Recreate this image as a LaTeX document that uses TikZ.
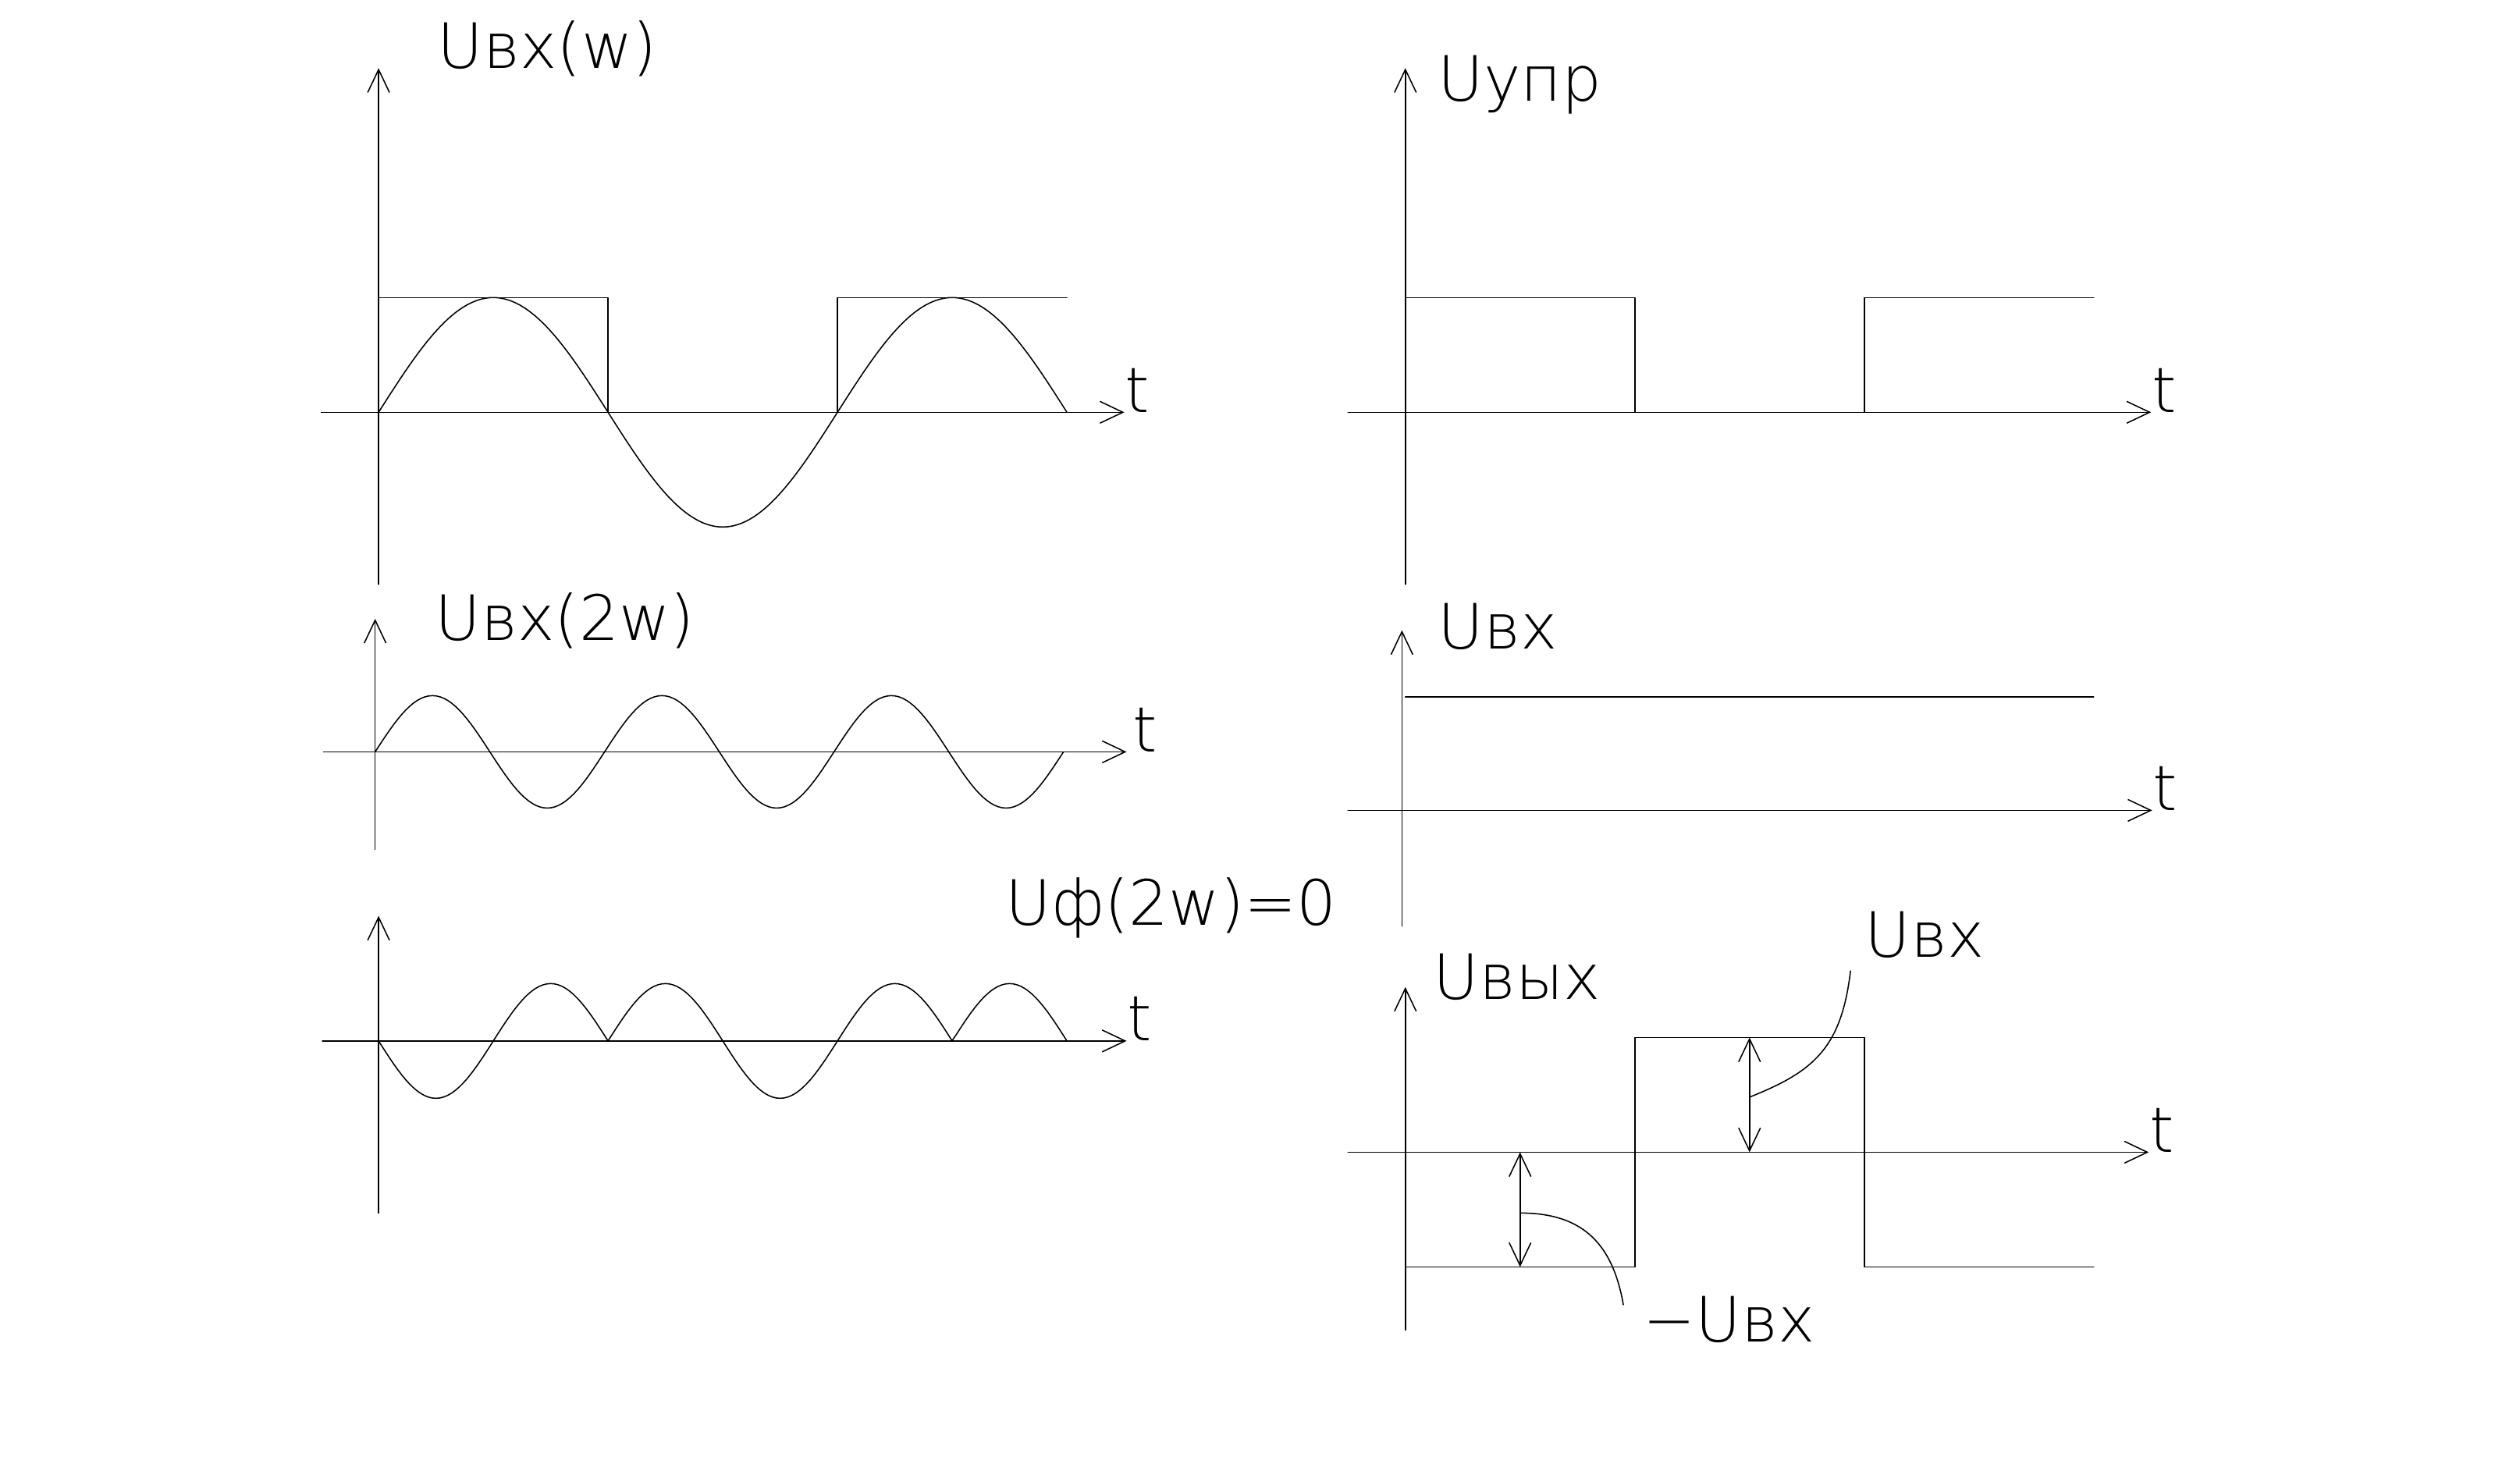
\documentclass[tikz,border=0pt]{standalone}
\usepackage{fontspec}
\newfontfamily\cadfont{DejaVu Sans ExtraLight}
\usetikzlibrary{arrows.meta}
\tikzset{
	lbl/.style={anchor=base west, inner sep=0pt},
	tlbl/.style={anchor=base west, inner sep=0pt},
	curve/.style={samples=181, variable=\x},
}
\begin{document}
\begin{tikzpicture}[line width=0.3pt, line join=round, line cap=round, >={Straight Barb[length=2mm,width=1.9mm]}, font=\cadfont\fontsize{15.5}{18}\selectfont]
	\useasboundingbox (0,0) rectangle (21.966,12.694);
	\begin{scope}[shift={(3.30,9.10)}]
		\draw[->] (-0.5,0)--(6.5,0) node[tlbl] (tA) {t};
		\draw[->] (0,-1.5)--(0,3);
		\node[lbl] (labA) at (0.51,3) {Uвх(w)};
		\draw (0,1)--(2,1)--(2,0) (4,0)--(4,1)--(6,1);
		\draw[curve, domain=0:6] plot (\x,{sin(90*\x)});
	\end{scope}
	\begin{scope}[shift={(3.27,6.14)}]
		\draw[->] (-0.45,0)--(6.55,0) node[tlbl, xshift=0.5mm] (tM) {t};
		\draw[->] (0,-0.85)--(0,1.16);
		\node[lbl] (labM) at (0.52,0.97) {Uвх(2w)};
		\draw[curve, domain=0:6] plot (\x,{0.49*sin(180*\x)});
	\end{scope}
	\begin{scope}[shift={(3.30,3.62)}]
		\draw[->] (-0.49,0)--(6.52,0) node[tlbl] (tE) {t};
		\draw[->] (0,-1.5)--(0,1.09);
		\node[lbl] (labE) at (5.46,1.01) {Uф(2w)=0};
		\draw[curve, domain=0:6] plot (\x,{0.5*sin(180*\x)*ifthenelse(\x<2,-1,ifthenelse(\x<5,1,-1))});
	\end{scope}
	\begin{scope}[shift={(12.25,9.10)}]
		\draw[->] (-0.5,0)--(6.5,0) node[tlbl] (tB) {t};
		\draw[->] (0,-1.5)--(0,3);
		\node[lbl] (labB) at (0.28,2.71) {Uупр};
		\draw (0,1)--(2,1)--(2,0) (4,0)--(4,1)--(6,1);
	\end{scope}
	\begin{scope}[shift={(12.22,5.63)}]
		\draw[->] (-0.47,0)--(6.54,0) node[tlbl] (tC) {t};
		\draw[->] (0,-1.01)--(0,1.57);
		\node[lbl] (labC) at (0.31,1.41) {Uвх};
		\draw (0.03,0.99)--(6.03,0.99);
	\end{scope}
	\begin{scope}[shift={(12.25,2.65)}]
		\draw[->] (-0.5,0)--(6.48,0) node[tlbl] (tD) {t};
		\draw[->] (0,-1.55)--(0,1.44);
		\node[lbl] (labD) at (0.24,1.33) {Uвых};
		\draw (0,-1)--(2,-1)--(2,1)--(4,1)--(4,-1)--(6,-1);
		\coordinate (p0) at (3,0);
		\coordinate (p1) at (3,1);
		\coordinate (n0) at (1,0);
		\coordinate (n1) at (1,-1);
		\draw[<->] (p0)--(p1);
		\draw[<->] (n0)--(n1);
		\node[lbl] (labP) at (4.0,1.70) {Uвх};
		\node[lbl] (labN) at (2.07,-1.65) {−Uвх};
		\coordinate (pm) at (3,0.48);
		\coordinate (pe) at (3.88,1.58);
		\coordinate (nm) at (1,-0.53);
		\coordinate (ne) at (1.9,-1.33);
		\draw (pm) .. controls +(0.55,0.22) and +(-0.08,-0.68) .. (pe);
		\draw (nm) .. controls +(0.5,0) and +(-0.1,0.58) .. (ne);
	\end{scope}
\end{tikzpicture}
\end{document}
